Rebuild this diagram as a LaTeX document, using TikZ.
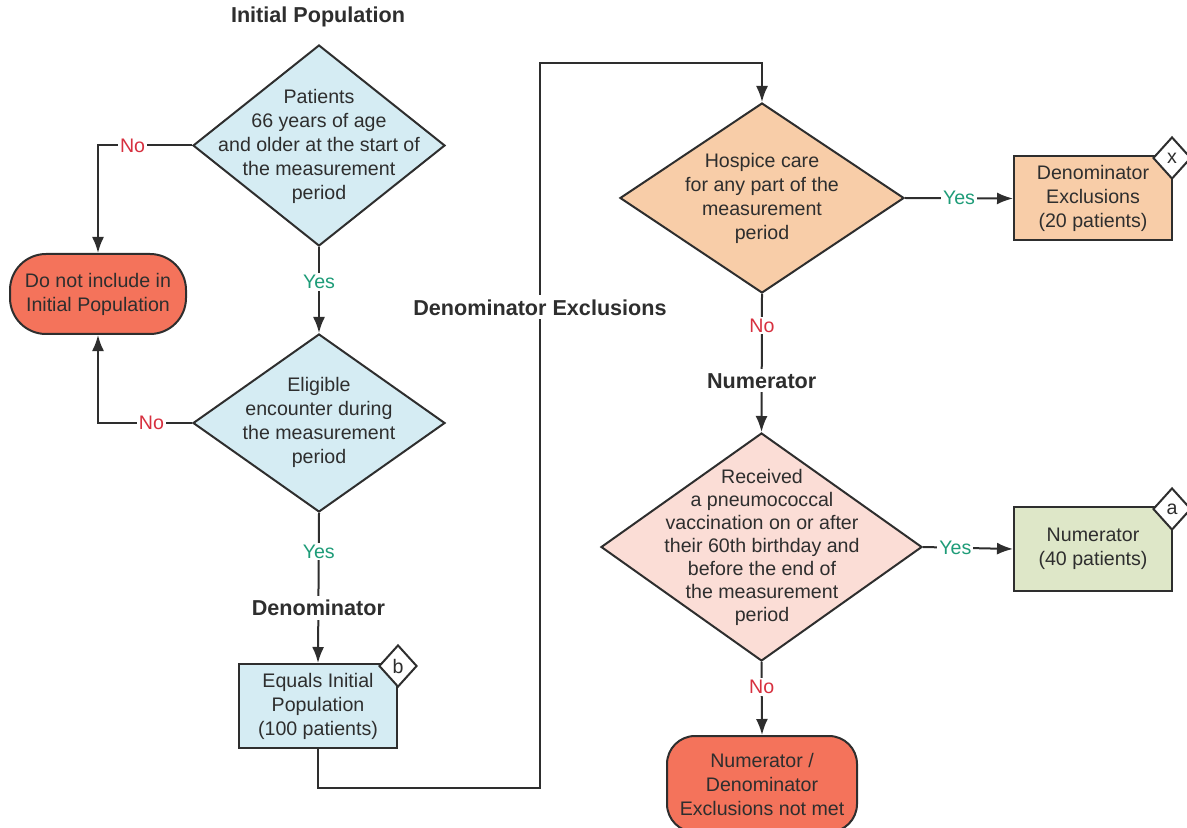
\documentclass[tikz,border=0pt]{standalone}
\usepackage{fontspec}
\setmainfont{Liberation Sans}
\usepackage{xcolor}
\usepackage{tikz}
\usetikzlibrary{arrows, arrows.meta, shapes.geometric}

\definecolor{inkgray}{HTML}{2E2E2E}
\definecolor{popblue}{HTML}{D5ECF3}
\definecolor{stopred}{HTML}{F4735B}
\definecolor{exclpeach}{HTML}{F8CDA8}
\definecolor{numpink}{HTML}{FBDDD6}
\definecolor{numgreen}{HTML}{DEE7C8}
\definecolor{yesgreen}{HTML}{1E9C78}
\definecolor{nored}{HTML}{D7303F}

\begin{document}
\begin{tikzpicture}[x=0.5pt, y=-0.5pt,
	every node/.style={text=inkgray, font=\fontsize{9.8}{12}\selectfont},
	decision/.style={diamond, draw=inkgray, line width=1pt, inner sep=0pt},
	terminal/.style={rectangle, draw=inkgray, line width=1pt, align=center, inner sep=0pt},
	outcome/.style={rectangle, draw=inkgray, line width=1pt, align=center, inner sep=0pt, minimum width=79pt, minimum height=42pt},
	tag/.style={diamond, draw=inkgray, fill=white, line width=1pt, inner sep=0pt, minimum width=19pt, minimum height=21pt},
	title/.style={fill=white, inner sep=2pt, font=\bfseries\fontsize{10.8}{13}\selectfont},
	yeslbl/.style={fill=white, inner sep=1pt, text=yesgreen},
	nolbl/.style={fill=white, inner sep=1pt, text=nored},
	arrow/.style={draw=inkgray, line width=1pt, -{Latex[length=8pt, width=6pt]}}
	]
	\useasboundingbox (0,0) rectangle (1187,828);

	% left column
	\node[title] (inittitle) at (318,17) {Initial Population};
	\node[decision, fill=popblue, minimum width=126pt, minimum height=100.5pt] (popcheck) at (319,145.5) {};
	\node[align=center] (popchecktext) at (319,146) {Patients\\66 years of age\\and older at the start of\\the measurement\\period};
	\node[terminal, fill=stopred, minimum width=88pt, minimum height=40pt, rounded corners=18pt] (noinit) at (98,294) {Do not include in\\Initial Population};
	\node[decision, fill=popblue, minimum width=126pt, minimum height=89pt] (enccheck) at (319,423) {};
	\node[align=center] (encchecktext) at (319,422) {Eligible\\encounter during\\the measurement\\period};
	\node[outcome, fill=popblue] (denombox) at (318,706) {Equals Initial\\Population\\(100 patients)};
	\node[tag] (btag) at (398,666) {b};

	% right column
	\node[decision, fill=exclpeach, minimum width=142pt, minimum height=95pt] (hospcheck) at (762,198) {};
	\node[align=center] (hospchecktext) at (762,198) {Hospice care\\for any part of the\\measurement\\period};
	\node[outcome, fill=exclpeach] (exclbox) at (1093,198.5) {Denominator\\Exclusions\\(20 patients)};
	\node[tag] (xtag) at (1172,158) {x};
	\node[decision, fill=numpink, minimum width=160.5pt, minimum height=114pt] (vaccheck) at (761.5,547) {};
	\node[align=center, font=\fontsize{9.8}{11.5}\selectfont] (vacchecktext) at (762,547) {Received\\a pneumococcal\\vaccination on or after\\their 60th birthday and\\before the end of\\the measurement\\period};
	\node[outcome, fill=numgreen] (numbox) at (1093,549) {Numerator\\(40 patients)};
	\node[tag] (atag) at (1172,509) {a};
	\node[terminal, fill=stopred, minimum width=95pt, minimum height=48pt, rounded corners=14pt] (notmet) at (762,784) {Numerator /\\Denominator\\Exclusions not met};

	% connectors
	\coordinate (turnlow) at (540,788);
	\coordinate (turnhigh) at (540,63);
	\draw[arrow] (popcheck.west) -| node[nolbl, pos=0.316] (popno) {No} (noinit.north);
	\draw[arrow] (enccheck.west) -| node[nolbl, pos=0.216] (encno) {No} (noinit.south);
	\draw[arrow] (popcheck.south) -- node[yeslbl, pos=0.41] (popyes) {Yes} (enccheck.north);
	\draw[arrow] (enccheck.south) -- node[yeslbl, pos=0.257] (encyes) {Yes} node[title, pos=0.632] (denomtitle) {Denominator} (denombox.north);
	\draw[arrow] (denombox.south) |- (turnlow) -- node[title, pos=0.663] (excltitle) {Denominator Exclusions} (turnhigh) -| (hospcheck.north);
	\draw[arrow] (hospcheck.east) -- node[yeslbl, pos=0.5] (hospyes) {Yes} (exclbox.west);
	\draw[arrow] (hospcheck.south) -- node[nolbl, pos=0.229] (hospno) {No} node[title, pos=0.629] (numtitle) {Numerator} (vaccheck.north);
	\draw[arrow] (vaccheck.east) -- node[yeslbl, pos=0.36] (vacyes) {Yes} (numbox.west);
	\draw[arrow] (vaccheck.south) -- node[nolbl, pos=0.347] (vacno) {No} (notmet.north);
\end{tikzpicture}
\end{document}
